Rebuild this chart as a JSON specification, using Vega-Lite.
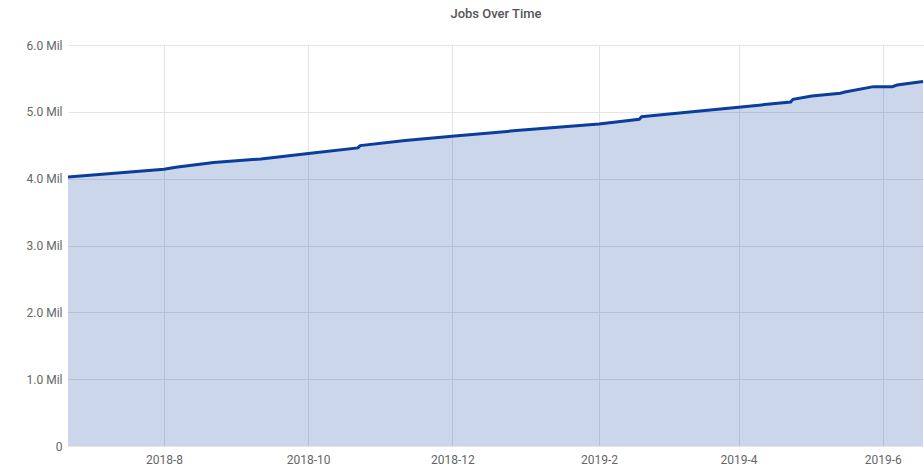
{
  "$schema": "https://vega.github.io/schema/vega-lite/v6.json",
  "width": 856,
  "height": 401,
  "autosize": {"type": "none"},
  "padding": {"left": 68, "top": 45, "right": 0, "bottom": 20},
  "background": "white",
  "title": {
    "text": "Jobs Over Time",
    "fontSize": 13,
    "font": "Roboto",
    "fontWeight": 500,
    "color": "#555555",
    "offset": 18
  },
  "config": {
    "view": {"stroke": null},
    "axis": {
      "labelFont": "Roboto",
      "labelFontSize": 12,
      "labelColor": "#666666",
      "gridColor": "#e4e4e4",
      "gridWidth": 1,
      "domain": false,
      "ticks": false,
      "title": null
    }
  },
  "data": {
    "values": [
      {"date": "2018-06-21", "jobs": 4023000},
      {"date": "2018-08-01", "jobs": 4142000},
      {"date": "2018-08-06", "jobs": 4172000},
      {"date": "2018-08-22", "jobs": 4241000},
      {"date": "2018-09-11", "jobs": 4296000},
      {"date": "2018-10-02", "jobs": 4381000},
      {"date": "2018-10-22", "jobs": 4460000},
      {"date": "2018-10-23", "jobs": 4495000},
      {"date": "2018-11-11", "jobs": 4570000},
      {"date": "2018-12-02", "jobs": 4640000},
      {"date": "2018-12-28", "jobs": 4719000},
      {"date": "2019-02-01", "jobs": 4819000},
      {"date": "2019-02-18", "jobs": 4889000},
      {"date": "2019-02-19", "jobs": 4928000},
      {"date": "2019-02-22", "jobs": 4939000},
      {"date": "2019-04-01", "jobs": 5069000},
      {"date": "2019-04-23", "jobs": 5148000},
      {"date": "2019-04-24", "jobs": 5188000},
      {"date": "2019-05-02", "jobs": 5238000},
      {"date": "2019-05-14", "jobs": 5278000},
      {"date": "2019-05-16", "jobs": 5297000},
      {"date": "2019-05-28", "jobs": 5377000},
      {"date": "2019-06-05", "jobs": 5377000},
      {"date": "2019-06-07", "jobs": 5402000},
      {"date": "2019-06-18", "jobs": 5455000}
    ]
  },
  "encoding": {
    "x": {
      "field": "date",
      "type": "temporal",
      "scale": {
        "type": "utc",
        "domain": [
          {"year": 2018, "month": 6, "date": 21, "hours": 10, "utc": true},
          {"year": 2019, "month": 6, "date": 18, "hours": 10, "utc": true}
        ]
      },
      "axis": {
        "values": [
          {"year": 2018, "month": 8, "date": 1, "utc": true},
          {"year": 2018, "month": 10, "date": 1, "utc": true},
          {"year": 2018, "month": 12, "date": 1, "utc": true},
          {"year": 2019, "month": 2, "date": 1, "utc": true},
          {"year": 2019, "month": 4, "date": 1, "utc": true},
          {"year": 2019, "month": 6, "date": 1, "utc": true}
        ],
        "labelExpr": "utcFormat(datum.value, '%Y-%-m')",
        "labelPadding": 8,
        "labelBaseline": "top"
      }
    },
    "y": {
      "field": "jobs",
      "type": "quantitative",
      "scale": {"domain": [0, 6000000], "nice": false},
      "axis": {
        "values": [0, 1000000, 2000000, 3000000, 4000000, 5000000, 6000000],
        "labelExpr": "datum.value == 0 ? '0' : format(datum.value / 1000000, '.1f') + ' Mil'",
        "labelPadding": 6
      }
    }
  },
  "layer": [
    {
      "mark": {"type": "area", "color": "#0b3d9c", "fillOpacity": 0.21, "clip": true}
    },
    {
      "mark": {"type": "line", "color": "#0b3d9c", "strokeWidth": 3, "clip": true}
    }
  ]
}
